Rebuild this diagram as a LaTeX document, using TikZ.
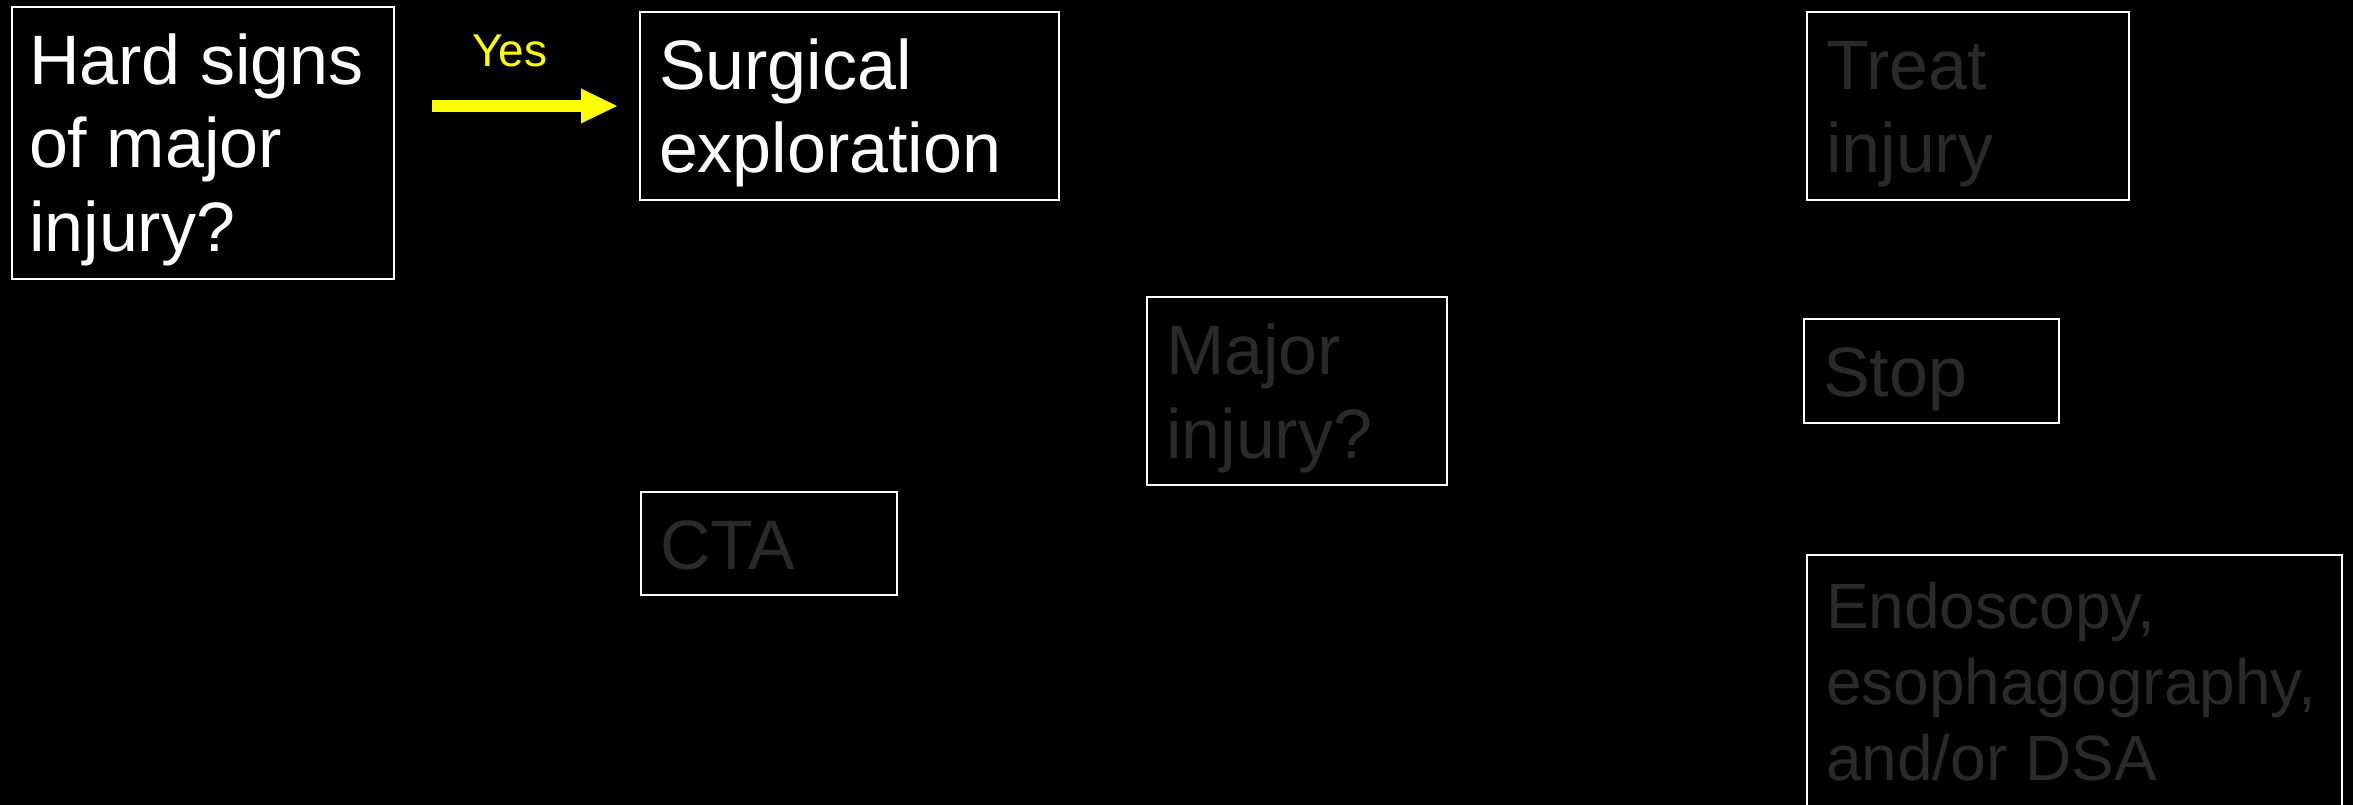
\documentclass[tikz,border=0pt]{standalone}
\usepackage{fontspec}
\setmainfont{Liberation Sans}
\usetikzlibrary{arrows.meta}

\definecolor{dimtext}{RGB}{42,42,42}
\definecolor{signal}{RGB}{255,255,0}

% type sizes of the flow chart
\newcommand\flowfont{\fontsize{70}{83.5}\selectfont\hyphenpenalty=10000 \parindent=0pt }
\newcommand\flowfontsmall{\fontsize{64}{76}\selectfont\hyphenpenalty=10000 \parindent=0pt }
\newcommand\yesfont{\fontsize{46}{55}\selectfont}

\begin{document}
\begin{tikzpicture}[x=1pt, y=-1pt,
  stepbox/.style={draw=white, line width=2pt, fill=black, anchor=north west,
    inner ysep=0pt, inner xsep=19pt, align=flush left, text height=77.5pt, font=\flowfont},
  livetext/.style={text=white},
  dimmed/.style={text=dimtext},
  yesarrow/.style={draw=signal, line width=12pt,
    -{Triangle[length=36pt, width=35pt, line width=0pt]}},
  yeslabel/.style={text=signal, font=\yesfont, anchor=base west, inner sep=0pt}
]
  % canvas
  \path[use as bounding box] (0,0) rectangle (2353,805);
  \clip (0,0) rectangle (2353,805);
  \fill[black] (0,0) rectangle (2353,805);

  % decision and action boxes
  \node[stepbox, livetext, inner xsep=17pt, text width=348pt, text depth=194.5pt]
    (hard) at (11,6) {Hard signs\\of major\\injury?};
  \node[stepbox, livetext, text width=381pt, text depth=110.5pt]
    (surg) at (639,11) {Surgical\\exploration};
  \node[stepbox, dimmed, text width=262pt, text depth=110.5pt]
    (major) at (1146,296) {Major\\injury?};
  \node[stepbox, dimmed, text width=218pt, text depth=25.5pt]
    (cta) at (640,491) {CTA};
  \node[stepbox, dimmed, text width=284pt, text depth=110.5pt]
    (treat) at (1806,11) {Treat\\injury};
  \node[stepbox, dimmed, text width=217pt, text depth=26.5pt]
    (stop) at (1803,318) {Stop};
  \node[stepbox, dimmed, font=\flowfontsmall, text height=73pt, text width=497pt, text depth=233pt]
    (endo) at (1806,554) {Endoscopy,\\esophagography,\\and/or DSA};

  % yes branch
  \draw[yesarrow] ([xshift=37pt]hard.east |- surg.west) -- ([xshift=-22pt]surg.west);
  \node[yeslabel] (yes) at (472,67) {Yes};
\end{tikzpicture}
\end{document}
